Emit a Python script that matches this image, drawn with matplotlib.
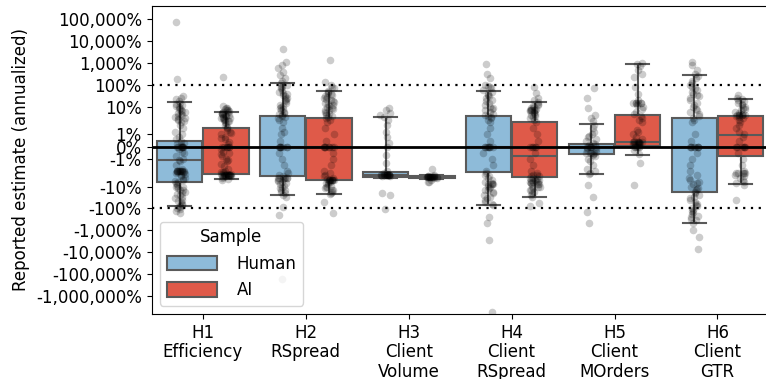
import numpy as np
import matplotlib
matplotlib.use("Agg")
import matplotlib.pyplot as plt
from matplotlib.patches import Patch
from matplotlib.ticker import FixedLocator, FuncFormatter, NullLocator

# values are in percent (annualized)
categories = ["H1\nEfficiency", "H2\nRSpread", "H3\nClient\nVolume",
              "H4\nClient\nRSpread", "H5\nClient\nMOrders", "H6\nClient\nGTR"]
samples = ["Human", "AI"]
colors = {"Human": "#8ebbd9", "AI": "#df5a49"}

# box stats: (whisker low, q1, median, q3, whisker high)
human_boxes = [
    (-78, -6.1, -1.1, 0.5, 16.4),
    (-24, -3.5, 0, 3.9, 120),
    (-3.9, -3.6, -2.9, -2.3, 3.5),
    (-68, -2.15, 0, 3.9, 53),
    (-2.7, -0.63, 0, 0.22, 1.84),
    (-476, -18.6, 0, 3.3, 294),
]
ai_boxes = [
    (-4.8, -2.65, 0, 1.56, 5.9),
    (-22, -5.3, 0, 3.1, 55),
    (-4.6, -4.3, -3.7, -3.3, -3.0),
    (-31, -3.7, -0.79, 2.1, 16.4),
    (-0.68, 0.08, 0.41, 4.3, 930),
    (-7.8, -0.74, 0.99, 3.8, 23),
]

# individual reported estimates (approximate)
h1_human = [71000, 190, 30, 25, 22, 18, 15, 14, 12, 11, 10, 9, 8, 7, 6.5, 6, 5.5, 5, 4.5,
            4, 3.5, 3, 2.8, 2.5, 2.2, 2, 1.8, 1.5, 1.2, 1, 0.8, 0.6, 0.5, 0.3, 0.2, 0.1,
            0, 0, 0, 0, 0, 0, 0, 0, -0.2, -0.4, -0.5, -0.8, -1, -1.1, -1.2, -1.5, -1.8,
            -2, -2, -2, -2, -2, -2, -2, -2, -2, -2, -2, -2.1, -2.2, -2.3, -2.5, -2.8, -3,
            -3.5, -4, -4.5, -5, -5.5, -6, -7, -8, -9, -10, -11, -12, -14, -15, -18, -20,
            -22, -25, -30, -35, -40, -45, -50, -60, -70, -80, -90, -100, -110, -130,
            -160]
h1_ai = [224, 11, 9, 8.5, 8, 7.5, 7, 6.5, 6, 5.8, 5.5, 5.2, 5, 4.8, 4.5, 4.2, 4, 3.8,
         3.5, 3.3, 3.2, 3, 2.8, 2.6, 2.5, 2.3, 2.2, 2, 1.9, 1.8, 1.6, 1.5, 1.4, 1.2, 1.1,
         1, 0.8, 0.7, 0.6, 0.4, 0.2, 0, 0, 0, 0, 0, 0, -0.2, -0.4, -0.5, -0.6, -0.8, -1,
         -1.1, -1.2, -1.4, -1.6, -1.8, -2, -2.1, -2.2, -2.4, -2.6, -2.7, -2.8, -3, -3,
         -3, -3, -3, -3, -3, -3, -3, -3, -3, -3, -3.2, -3.4, -3.5, -3.8, -4, -4.5, -5]
h2_human = [4200, 1150, 800, 580, 400, 285, 200, 150, 120, 100, 90, 80, 70, 60, 50, 45,
            40, 35, 30, 25, 22, 20, 18, 15, 12, 11, 10, 9, 8, 7, 6, 5.5, 5, 4.5, 4, 3.5,
            3, 2.5, 2, 1.5, 1.2, 1, 0.5, 0, 0, 0, 0, 0, 0, 0, 0, -0.5, -1, -1.5, -2,
            -2.5, -3, -3.5, -4, -4, -4, -4, -4, -4, -4.5, -5, -5.5, -6, -7, -8, -9, -10,
            -12, -14, -15, -18, -20, -25, -30, -84, -200, -166000]
h2_ai = [1370, 141, 100, 80, 70, 55, 50, 45, 40, 35, 30, 27, 25, 22, 20, 18, 16, 15, 13,
         12, 11, 10, 9, 8, 7.5, 7, 6, 5.5, 5, 4.5, 4, 3.5, 3, 2.5, 2, 1.5, 1, 0.5, 0, 0,
         0, 0, 0, 0, 0, 0, -0.5, -1, -1.5, -2, -2.5, -3, -3.5, -4, -4.5, -5, -5, -5,
         -5, -5, -5, -5, -5, -5, -5.5, -6, -6.5, -7, -8, -9, -10, -11, -12, -14, -15,
         -18, -20, -22, -50, -166]
h3_human = [8.7, 7, 5.5, 4.3, 3.5, 2.5, 1.8, 1.2, 0.8, 0.3, 0, -0.7, -1.3, -2, -2.5,
            -2.8, -2.9, -2.9, -2.9, -2.9, -2.9, -2.9, -2.9, -2.9, -2.9, -2.9, -3, -3, -3,
            -3, -3.2, -3.5, -19, -24, -110]
h3_ai = [-1.8, -3, -3.2, -3.4, -3.5, -3.6, -3.6, -3.6, -3.6, -3.6, -3.6, -3.6, -3.6,
         -3.6, -3.6, -3.6, -3.6, -3.7, -3.8, -4, -4.2, -5, -6, -6]
h4_human = [870, 320, 200, 100, 90, 80, 70, 60, 50, 40, 35, 30, 25, 20, 18, 15, 12, 10,
            9, 8, 7, 6, 5, 4.5, 4, 3.5, 3, 2.5, 2, 1.5, 1, 0.5, 0, 0, 0, 0, 0, 0, 0, 0,
            -0.5, -1, -1.5, -2, -2.5, -3, -3.5, -4, -5, -6, -7, -8, -8, -8, -8, -9, -10,
            -12, -14, -15, -18, -20, -25, -30, -35, -40, -50, -60, -70, -240, -450,
            -2750, -5100000]
h4_ai = [79, 42, 25, 20, 16, 14, 12, 11, 10, 9, 8, 7.3, 7.3, 7.3, 7.3, 7.3, 6.5, 6, 5.5,
         5, 4.5, 4, 3.5, 3, 2.5, 2, 1.5, 1, 0.5, 0, 0, 0, 0, 0, -0.5, -1, -1.5, -2, -2.5,
         -3, -3, -3.2, -3.5, -4, -4, -4.5, -5, -5, -5, -5.5, -6, -6, -6.5, -7, -7, -8,
         -8, -9, -10, -11, -12, -14, -15, -18, -20, -25, -31, -56, -80]
h5_human = [71, 25, 8.7, 4.5, 3, 2.2, 1.8, 1.5, 1.2, 1, 0.9, 0.8, 0.6, 0.5, 0.3, 0.2,
            0.1, 0, 0, 0, 0, 0, 0, -0.1, -0.2, -0.3, -0.4, -0.5, -0.5, -0.5, -0.5, -0.6,
            -0.7, -0.8, -1, -1.2, -1.5, -1.8, -2, -2.5, -2.7, -8.7, -29, -140, -450]
h5_ai = [1030, 900, 700, 480, 300, 240, 80, 40, 20, 15, 14.8, 14.8, 14.8, 14.8, 14.8,
         12, 10, 8, 6, 5, 4, 3.1, 2.5, 2, 1.4, 1.2, 1, 0.8, 0.6, 0.5, 0.4, 0.4, 0.4,
         0.4, 0.4, 0.4, 0.3, 0.3, 0.3, 0.2, 0.2, 0.2, 0.1, 0.1, 0, 0, 0, 0, 0, -0.3,
         -0.6, -1.3, -8.7]
h6_human = [1150, 800, 480, 300, 250, 200, 150, 120, 100, 80, 70, 60, 50, 40, 35, 30, 25,
            20, 15, 12, 10, 8, 7, 6, 5, 4, 3, 2.5, 2, 1, 0.5, 0, 0, 0, 0, 0, 0, 0, 0,
            -0.5, -1, -1.5, -2, -3, -4, -5, -6, -7, -8, -10, -12, -13, -15, -18, -20,
            -25, -30, -35, -40, -50, -60, -70, -80, -100, -120, -130, -150, -180, -220,
            -250, -300, -350, -476, -1000, -1950, -7200]
h6_ai = [35, 25, 22, 20, 18, 15, 13, 12, 10, 9, 8, 7, 6, 5.5, 5, 4.3, 4.3, 4.3, 4.3,
         4.3, 4.3, 4, 3.5, 3, 2.5, 2, 1.8, 1.5, 1.2, 1, 0.8, 0.5, 0, 0, 0, 0, 0, 0,
         -0.5, -1, -1.5, -2, -2.5, -2.5, -2.5, -2.5, -2.5, -3, -3.5, -4, -5, -6, -7,
         -8.7, -42]

human_points = [h1_human, h2_human, h3_human, h4_human, h5_human, h6_human]
ai_points = [h1_ai, h2_ai, h3_ai, h4_ai, h5_ai, h6_ai]

fs = 12
fig = plt.figure(figsize=(7.66, 3.79), dpi=100)
ax = fig.add_axes([0.1978, 0.1715, 0.8059, 0.8127])

w = 0.45
edge = "#5a5a5a"
rng = np.random.default_rng(3)

for s, boxes, pts, off in [("Human", human_boxes, human_points, -w / 2),
                           ("AI", ai_boxes, ai_points, w / 2)]:
    stats = []
    for lo, q1, med, q3, hi in boxes:
        stats.append(dict(whislo=lo, q1=q1, med=med, q3=q3, whishi=hi, fliers=[]))
    pos = np.arange(len(categories)) + off
    ax.bxp(stats, positions=pos, widths=w * 0.98, capwidths=w / 2, patch_artist=True,
           showfliers=False,
           boxprops=dict(facecolor=colors[s], edgecolor=edge, linewidth=1.5),
           medianprops=dict(color=edge, linewidth=1.5),
           whiskerprops=dict(color=edge, linewidth=1.5),
           capprops=dict(color=edge, linewidth=1.5), zorder=2)
    for i, vals in enumerate(pts):
        xs = pos[i] + rng.uniform(-0.05, 0.05, len(vals))
        ax.scatter(xs, vals, s=30, color="black", alpha=0.2, linewidths=0, zorder=3)

ax.axhline(0, color="black", lw=2, zorder=4)
ax.axhline(100, color="black", lw=1.6, ls=(0, (1, 2.5)), zorder=4)
ax.axhline(-100, color="black", lw=1.6, ls=(0, (1, 2.5)), zorder=4)

ax.set_yscale("symlog", linthresh=2, linscale=1)
ax.set_ylim(-6.3e6, 3.9e5)
ax.set_xlim(-0.5, 5.5)
yt = [-1e6, -1e5, -1e4, -1e3, -100, -10, -1, 0, 1, 10, 100, 1e3, 1e4, 1e5]
ax.yaxis.set_major_locator(FixedLocator(yt))
ax.yaxis.set_minor_locator(NullLocator())
ax.yaxis.set_major_formatter(FuncFormatter(lambda v, p: f"{v:,.0f}%"))
ax.set_xticks(range(len(categories)))
ax.set_xticklabels(categories, fontsize=fs, linespacing=1.1)
ax.tick_params(axis="y", labelsize=fs)
ax.set_ylabel("Reported estimate (annualized)", fontsize=fs)

handles = [Patch(facecolor=colors[s], edgecolor=edge, linewidth=1.5, label=s) for s in samples]
ax.legend(handles=handles, title="Sample", loc="lower left", fontsize=fs,
          title_fontsize=fs, handlelength=3, handleheight=1.0, handletextpad=1.2,
          borderaxespad=0.5)

fig.savefig("out.png", dpi=100)
